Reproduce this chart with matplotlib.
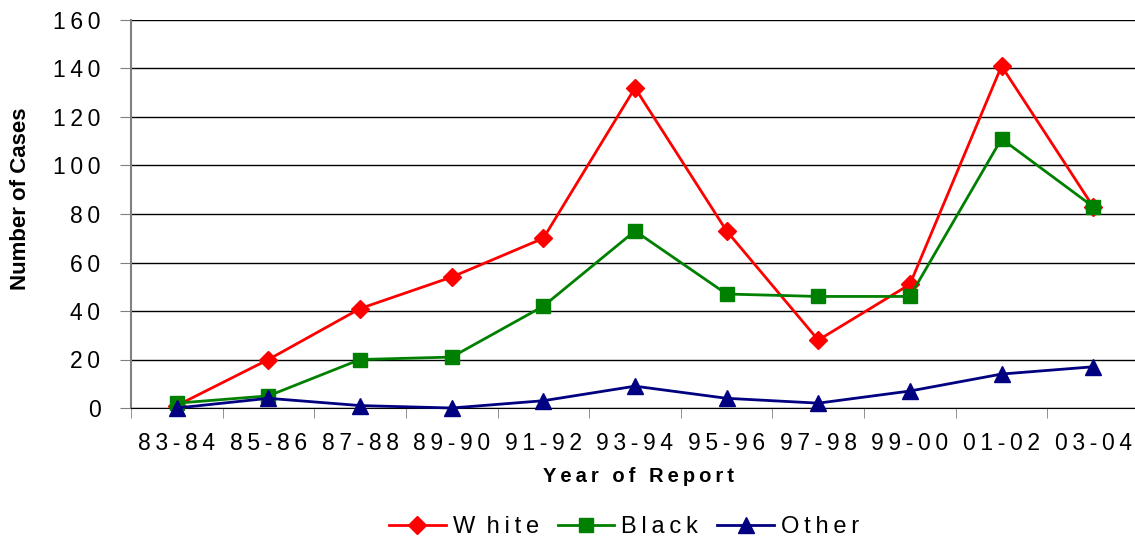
import matplotlib
matplotlib.use("Agg")
import matplotlib.pyplot as plt
import numpy as np

categories = ["83-84", "85-86", "87-88", "89-90", "91-92", "93-94", "95-96", "97-98", "99-00", "01-02", "03-04"]
white = [1, 20, 41, 54, 70, 132, 73, 28, 51, 141, 83]
black = [2, 5, 20, 21, 42, 73, 47, 46, 46, 111, 83]
other = [0, 4, 1, 0, 3, 9, 4, 2, 7, 14, 17]
series_names = ["W hite", "Black", "Other"]
yticks = list(range(0, 161, 20))

plt.rcParams['font.family'] = ['Liberation Sans', 'DejaVu Sans']

TS = "\u2009"  # thin space used as letter spacing


def spaced(s, word_gap=2):
    out = ""
    for i, ch in enumerate(s):
        out += ch
        if i < len(s) - 1:
            if ch == " ":
                continue
            if s[i + 1] == " ":
                out += TS * (word_gap - 1)
            else:
                out += TS
    return out


W, H = 1135, 542
fig = plt.figure(figsize=(W/100, H/100), dpi=100)
left, right, top, bottom = 131, 1139, 20, 408
ax = fig.add_axes([left/W, 1-bottom/H, (right-left)/W, (bottom-top)/H])

x = np.arange(len(categories))
ax.plot(x, white, color='#ff0000', marker='D', markersize=9, lw=2, label=spaced(series_names[0]), clip_on=False, zorder=3)
ax.plot(x, black, color='#008000', marker='s', markersize=10, lw=2, label=spaced(series_names[1]), clip_on=False, zorder=3)
ax.plot(x, other, color='#000080', marker='^', markersize=11, lw=2, label=spaced(series_names[2]), clip_on=False, zorder=4)

ax.set_xlim(-0.5, len(categories)-0.5)
ax.set_ylim(0, 160)
ax.set_yticks(yticks)
ax.set_yticklabels([spaced(str(v)) for v in yticks])
ax.set_xticks(x)
ax.set_xticklabels([spaced(c) for c in categories])
ax.set_xticks(np.arange(-0.5, len(categories), 1), minor=True)
ax.tick_params(axis='x', which='major', length=0, pad=17, labelsize=16.5)
ax.tick_params(axis='x', which='minor', length=7, color='#808080', direction='out')
ax.tick_params(axis='y', length=8, color='#808080', labelsize=16.5, pad=14)

ax.grid(axis='y', color='black', lw=1)
ax.set_axisbelow(True)
for s in ['top', 'right']:
    ax.spines[s].set_visible(False)
ax.spines['left'].set_color('#808080')
ax.spines['left'].set_linewidth(1.5)
ax.spines['bottom'].set_color('black')

ax.set_xlabel(spaced('Year of Report', word_gap=3), fontsize=14.5, fontweight='bold')
ax.xaxis.set_label_coords((638-left)/(right-left), (bottom-467)/(bottom-top))
ax.set_ylabel('Number of Cases', fontsize=16, fontweight='bold')
ax.yaxis.set_label_coords((31-left)/(right-left), (bottom-199)/(bottom-top))

leg = fig.legend(loc='center', bbox_to_anchor=(624/W, 1-527/H), ncol=3, frameon=False,
                 fontsize=17, handlelength=2.4, columnspacing=0.8, handletextpad=0.3)

fig.savefig('out.png', dpi=100)
